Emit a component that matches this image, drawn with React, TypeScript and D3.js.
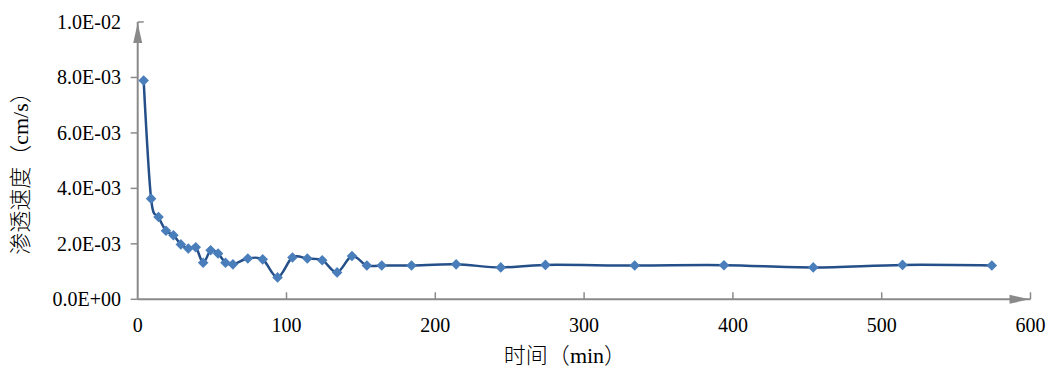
import React from "react";
import * as d3 from "d3";

const times = [4, 9, 14, 19, 24, 29, 34, 39, 44, 49, 54, 59, 64, 74, 84, 94, 104, 114, 124, 134, 144, 154, 164, 184, 214, 244, 274, 334, 394, 454, 514, 574];
const velocity = [7.89e-3, 3.63e-3, 2.97e-3, 2.47e-3, 2.31e-3, 1.98e-3, 1.83e-3, 1.88e-3, 1.32e-3, 1.77e-3, 1.65e-3, 1.32e-3, 1.26e-3, 1.47e-3, 1.44e-3, 0.79e-3, 1.51e-3, 1.47e-3, 1.41e-3, 0.97e-3, 1.56e-3, 1.22e-3, 1.22e-3, 1.22e-3, 1.26e-3, 1.15e-3, 1.24e-3, 1.22e-3, 1.23e-3, 1.15e-3, 1.24e-3, 1.22e-3];
const yTickValues = [0, 0.002, 0.004, 0.006, 0.008, 0.01];
const yTickLabels = ["0.0E+00", "2.0E-03", "4.0E-03", "6.0E-03", "8.0E-03", "1.0E-02"];
const xTickValues = [0, 100, 200, 300, 400, 500, 600];
const xTickLabels = ["0", "100", "200", "300", "400", "500", "600"];
const xTitleCJK = "时间（";
const xTitleLatin = "min";
const yTitleCJK = "渗透速度（";
const yTitleLatin = "cm/s";
const closeParen = "）";

const W = 1050;
const H = 368;
const SERIF = "'Liberation Serif', 'DejaVu Serif', serif";
const CJK = "'Noto Sans CJK SC', sans-serif";
const AXIS = "#8a8a8a";
const serifStyle = { fontFamily: SERIF };
const cjkStyle = { fontFamily: CJK, fontWeight: 300 };

export default function App() {
  const x = d3.scaleLinear().domain([0, 600]).range([137.7, 1030.5]);
  const y = d3.scaleLinear().domain([0, 0.01]).range([299.3, 22]);
  const pts: [number, number][] = times.map((t, i) => [x(t), y(velocity[i])]);
  const line = d3.line().curve(d3.curveCatmullRom.alpha(0))(pts) || "";
  const marker = d3.symbol().type(d3.symbolSquare).size(56)() || "";
  const x0 = x(0);
  const y0 = y(0);
  const xEnd = x(600);
  const yTop = y(0.01);

  return (
    <svg width={W} height={H} style={{ position: "absolute", left: 0, top: 0, background: "#fff" }}>
      {/* y axis */}
      <line x1={x0} y1={y0} x2={x0} y2={yTop} stroke={AXIS} strokeWidth={2} />
      <path d={`M${x0},${yTop + 1} L${x0 - 4.5},${yTop + 21} L${x0 + 4.5},${yTop + 21} Z`} fill={AXIS} />
      <line x1={x0} y1={yTop} x2={x0 + 6} y2={yTop} stroke={AXIS} strokeWidth={1.5} />
      {yTickValues.map((v, i) => (
        <g key={"y" + i}>
          {i < yTickValues.length - 1 && (
            <line x1={x0 - 7} y1={y(v)} x2={x0} y2={y(v)} stroke={AXIS} strokeWidth={1.5} />
          )}
          <text x={121} y={y(v)} dy="0.35em" textAnchor="end" style={serifStyle} fontSize={20} fill="#000">
            {yTickLabels[i]}
          </text>
        </g>
      ))}
      {/* x axis */}
      <line x1={x0} y1={y0} x2={xEnd} y2={y0} stroke={AXIS} strokeWidth={2} />
      <path d={`M${xEnd - 1},${y0} L${xEnd - 21},${y0 - 4.5} L${xEnd - 21},${y0 + 4.5} Z`} fill={AXIS} />
      {xTickValues.map((v, i) => (
        <g key={"x" + i}>
          {i > 0 && <line x1={x(v)} y1={y0} x2={x(v)} y2={y0 - 7} stroke={AXIS} strokeWidth={1.5} />}
          <text x={x(v)} y={332} textAnchor="middle" style={serifStyle} fontSize={20} fill="#000">
            {xTickLabels[i]}
          </text>
        </g>
      ))}
      {/* titles */}
      <text x={565} y={363} textAnchor="middle" fontSize={22} fill="#000">
        <tspan style={cjkStyle}>{xTitleCJK}</tspan>
        <tspan style={serifStyle}>{xTitleLatin}</tspan>
        <tspan style={cjkStyle}>{closeParen}</tspan>
      </text>
      <text transform={`translate(28,168) rotate(-90)`} textAnchor="middle" fontSize={22} fill="#000">
        <tspan style={cjkStyle}>{yTitleCJK}</tspan>
        <tspan style={serifStyle}>{yTitleLatin}</tspan>
        <tspan style={cjkStyle}>{closeParen}</tspan>
      </text>
      {/* series */}
      <path d={line} fill="none" stroke="#244f88" strokeWidth={2.5} strokeLinejoin="round" />
      {pts.map((p, i) => (
        <path key={"m" + i} d={marker} transform={`translate(${p[0]},${p[1]}) rotate(45)`} fill="#4a7ebb" />
      ))}
    </svg>
  );
}
